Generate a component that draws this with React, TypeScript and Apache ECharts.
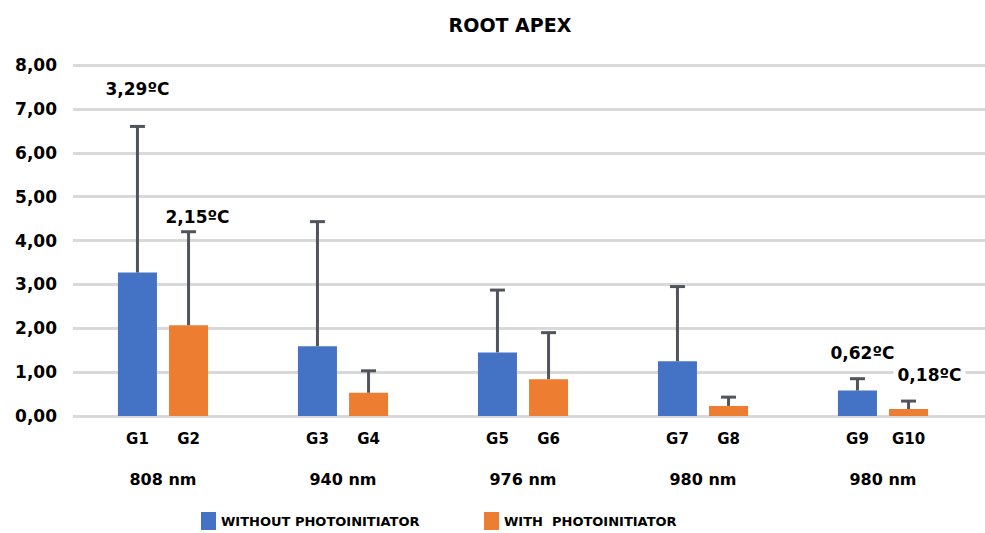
import React, { useEffect, useRef } from "react";
import * as echarts from "echarts";

const title = "ROOT APEX";
const wavelengths = ["808 nm", "940 nm", "976 nm", "980 nm", "980 nm"];
const seriesNames = ["WITHOUT PHOTOINITIATOR", "WITH  PHOTOINITIATOR"];
const groupLabelsWithout = ["G1", "G3", "G5", "G7", "G9"];
const groupLabelsWith = ["G2", "G4", "G6", "G8", "G10"];
const meanWithout = [3.27, 1.59, 1.45, 1.25, 0.58];
const meanWith = [2.07, 0.53, 0.84, 0.23, 0.16];
const errTopWithout = [6.6, 4.43, 2.87, 2.95, 0.85];
const errTopWith = [4.2, 1.03, 1.9, 0.43, 0.34];
// annotation texts: [seriesIndex, groupIndex, text]
const annotations: [number, number, string][] = [
  [0, 0, "3,29ºC"],
  [1, 0, "2,15ºC"],
  [0, 4, "0,62ºC"],
  [1, 4, "0,18ºC"],
];
const yTicks = [0, 1, 2, 3, 4, 5, 6, 7, 8];

// style: pixel offsets of annotations from error-bar top [dx, dy]
const annotationOffsets: Record<string, [number, number]> = {
  "0-0": [0, -37],
  "1-0": [9, -15],
  "0-4": [5, -26],
  "1-4": [21, -26],
};

const FONT = "'DejaVu Sans', sans-serif";
const BLUE = "#4472c4";
const ORANGE = "#ed7d31";
const ERR = "#50545c";
const BAR_W = 39;
const BAR_GAP = 0.31;

export default function App() {
  const ref = useRef<HTMLDivElement>(null);
  useEffect(() => {
    if (!ref.current) return;
    const chart = echarts.init(ref.current, undefined, { renderer: "svg" });
    const offset = (BAR_W + BAR_W * BAR_GAP) / 2;
    const errData: number[][] = [];
    for (let i = 0; i < wavelengths.length; i++) {
      errData.push([i, meanWithout[i], errTopWithout[i], 0]);
      errData.push([i, meanWith[i], errTopWith[i], 1]);
    }
    const renderErr = (params: any, api: any) => {
      const idx = api.value(0);
      const s = api.value(3);
      const base = api.coord([idx, api.value(1)]);
      const top = api.coord([idx, api.value(2)]);
      const x = base[0] + (s === 0 ? -offset : offset);
      const children: any[] = [
        {
          type: "line",
          shape: { x1: x, y1: base[1], x2: x, y2: top[1] },
          style: { stroke: ERR, lineWidth: 3 },
        },
        {
          type: "line",
          shape: { x1: x - 7.5, y1: top[1], x2: x + 7.5, y2: top[1] },
          style: { stroke: ERR, lineWidth: 3 },
        },
      ];
      const ann = annotations.find((a) => a[0] === s && a[1] === idx);
      if (ann) {
        const off = annotationOffsets[`${s}-${idx}`] || [0, -20];
        children.push({
          type: "text",
          x: x + off[0],
          y: top[1] + off[1],
          style: {
            text: ann[2],
            fill: "#000",
            font: `bold 17px ${FONT}`,
            align: "center",
            verticalAlign: "middle",
            backgroundColor: "#fff",
            padding: [2, 4],
          },
        });
      }
      return { type: "group", children };
    };

    const option: any = {
      animation: false,
      backgroundColor: "#fff",
      title: {
        text: title,
        left: 505,
        top: 10,
        textAlign: "center",
        textStyle: { fontFamily: FONT, fontWeight: "bold", fontSize: 19, color: "#000" },
      },
      legend: [
        {
          data: [seriesNames[0]],
          left: 201,
          top: 512,
          padding: 0,
          itemWidth: 15,
          itemHeight: 18,
          icon: "rect",
          itemGap: 6,
          textStyle: { fontFamily: FONT, fontWeight: "bold", fontSize: 13, color: "#000" },
        },
        {
          data: [seriesNames[1]],
          left: 484,
          top: 512,
          padding: 0,
          itemWidth: 15,
          itemHeight: 18,
          icon: "rect",
          textStyle: { fontFamily: FONT, fontWeight: "bold", fontSize: 13, color: "#000" },
        },
      ],
      grid: [
        { left: 73, right: 0, top: 65, bottom: 117, containLabel: false },
        { left: 73, right: 12, top: 65, bottom: 117, containLabel: false },
      ],
      xAxis: [
        { type: "category", gridIndex: 0, data: wavelengths, show: false },
        {
          type: "category",
          gridIndex: 1,
          data: wavelengths,
          axisLine: { show: false },
          axisTick: { show: false },
          axisLabel: {
            margin: 55,
            fontFamily: FONT,
            fontWeight: "bold",
            fontSize: 16,
            color: "#000",
          },
        },
      ],
      yAxis: [
        {
          type: "value",
          gridIndex: 0,
          min: 0,
          max: 8,
          interval: 1,
          axisLine: { show: false },
          axisTick: { show: false },
          splitLine: { lineStyle: { color: "#d9d9d9", width: 3 } },
          axisLabel: {
            margin: 16,
            fontFamily: FONT,
            fontWeight: "bold",
            fontSize: 17,
            color: "#000",
            formatter: (v: number) => (yTicks.includes(v) ? v.toFixed(2).replace(".", ",") : ""),
          },
        },
        {
          type: "value",
          gridIndex: 1,
          min: 0,
          max: 8,
          interval: 1,
          show: false,
          splitLine: { show: false },
        },
      ],
      series: [
        {
          name: seriesNames[0],
          type: "bar",
          xAxisIndex: 1,
          yAxisIndex: 1,
          data: meanWithout,
          barWidth: BAR_W,
          barGap: `${BAR_GAP * 100}%`,
          itemStyle: { color: BLUE },
          label: {
            show: true,
            position: "bottom",
            distance: 15,
            formatter: (p: any) => groupLabelsWithout[p.dataIndex],
            fontFamily: FONT,
            fontWeight: "bold",
            fontSize: 15,
            color: "#000",
          },
        },
        {
          name: seriesNames[1],
          type: "bar",
          xAxisIndex: 1,
          yAxisIndex: 1,
          data: meanWith,
          barWidth: BAR_W,
          barGap: `${BAR_GAP * 100}%`,
          itemStyle: { color: ORANGE },
          label: {
            show: true,
            position: "bottom",
            distance: 15,
            formatter: (p: any) => groupLabelsWith[p.dataIndex],
            fontFamily: FONT,
            fontWeight: "bold",
            fontSize: 15,
            color: "#000",
          },
        },
        {
          type: "custom",
          xAxisIndex: 1,
          yAxisIndex: 1,
          data: errData,
          encode: { x: 0, y: [1, 2] },
          renderItem: renderErr,
          z: 5,
          silent: true,
        },
      ],
    };
    chart.setOption(option);
    return () => chart.dispose();
  }, []);
  return <div ref={ref} style={{ width: 985, height: 533, position: "absolute", left: 0, top: 0 }} />;
}
